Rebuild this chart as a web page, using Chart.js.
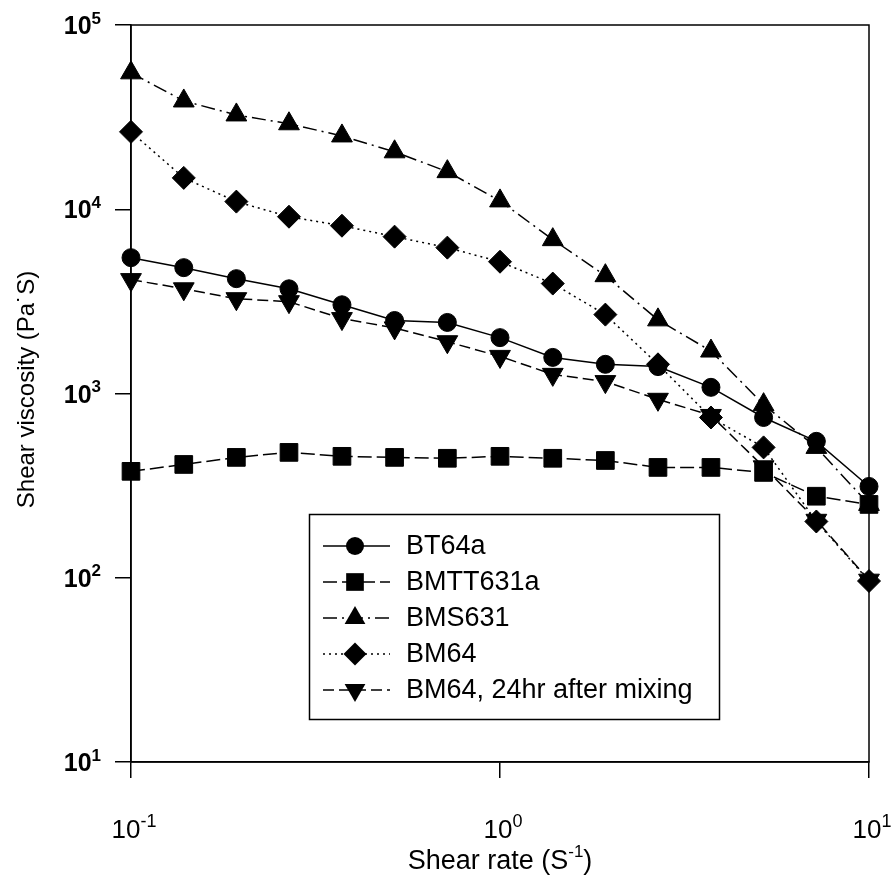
<!DOCTYPE html>
<html>
<head>
<meta charset="utf-8">
<script src="https://cdn.jsdelivr.net/npm/chart.js"></script>
<style>
  body { margin: 0; background: #fff; }
  #wrap { width: 891px; height: 878px; }
</style>
</head>
<body>
<div id="wrap"><canvas id="myChart"></canvas></div>
<script>
// shear rate (1/s)
var shearRate = [0.1, 0.139, 0.193, 0.268, 0.373, 0.518, 0.72, 1.0, 1.39, 1.93, 2.68, 3.73, 5.18, 7.2, 10];

// shear viscosity (Pa.s)
var bt64a     = [5460, 4820, 4200, 3700, 3030, 2490, 2430, 2010, 1570, 1440, 1400, 1080, 741, 550, 313];
var bmtt631a  = [378, 412, 450, 479, 456, 450, 445, 456, 445, 433, 397, 397, 373, 277, 250];
var bms631    = [55000, 38700, 32500, 29100, 25000, 20500, 16000, 11100, 6840, 4360, 2510, 1700, 870, 510, 250];
var bm64      = [26300, 14800, 11000, 9110, 8140, 7100, 6190, 5190, 3950, 2680, 1440, 741, 510, 202, 96];
var bm64_24hr = [4150, 3700, 3270, 3150, 2550, 2270, 1910, 1590, 1270, 1160, 930, 760, 400, 205, 97];

var seriesNames = ['BT64a', 'BMTT631a', 'BMS631', 'BM64', 'BM64, 24hr after mixing'];

// axis ticks: mantissa 10, exponents
var xTickExp = [-1, 0, 1];
var yTickExp = [1, 2, 3, 4, 5];

var FONT = '"Liberation Sans", Arial, Helvetica, sans-serif';

function pts(ys) {
    return shearRate.map(function (x, i) { return { x: x, y: ys[i] }; });
}

function series(label, ys, dash, style, radius, rotation) {
    return {
        label: label,
        data: pts(ys),
        borderColor: '#000',
        backgroundColor: '#000',
        borderWidth: 1.5,
        borderDash: dash,
        pointStyle: style,
        pointRadius: radius,
        pointRotation: rotation || 0,
        pointBackgroundColor: '#000',
        pointBorderColor: '#000',
        pointBorderWidth: 1,
        tension: 0,
        fill: false,
        clip: false
    };
}

function marker(ctx, style, r, rot, x, y) {
    ctx.save();
    ctx.fillStyle = '#000';
    ctx.setLineDash([]);
    ctx.beginPath();
    if (style === 'circle') {
        ctx.arc(x, y, r, 0, Math.PI * 2);
    } else if (style === 'rect') {
        var s = r * Math.SQRT1_2;
        ctx.rect(x - s, y - s, 2 * s, 2 * s);
    } else if (style === 'rectRot') {
        ctx.moveTo(x, y - r); ctx.lineTo(x + r, y); ctx.lineTo(x, y + r); ctx.lineTo(x - r, y);
        ctx.closePath();
    } else if (style === 'triangle') {
        var a = rot * Math.PI / 180;
        for (var k = 0; k < 3; k++) {
            var px = x + Math.sin(a) * r, py = y - Math.cos(a) * r;
            if (k === 0) ctx.moveTo(px, py); else ctx.lineTo(px, py);
            a += 2 * Math.PI / 3;
        }
        ctx.closePath();
    }
    ctx.fill();
    ctx.restore();
}

function powLabel(ctx, exp, x, y, size, weight, align) {
    var supSize = Math.round(size * 0.68);
    ctx.font = weight + ' ' + size + 'px ' + FONT;
    var w1 = ctx.measureText('10').width;
    ctx.font = weight + ' ' + supSize + 'px ' + FONT;
    var w2 = ctx.measureText(String(exp)).width;
    var left = align === 'right' ? x - w1 - w2 : x - (w1 + w2) / 2;
    ctx.textAlign = 'left';
    ctx.textBaseline = 'alphabetic';
    ctx.font = weight + ' ' + size + 'px ' + FONT;
    ctx.fillText('10', left, y);
    ctx.font = weight + ' ' + supSize + 'px ' + FONT;
    ctx.fillText(String(exp), left + w1, y - size * 0.42);
}

var decorations = {
    id: 'decorations',
    beforeDatasetsDraw: function (chart) {
        var ctx = chart.ctx, a = chart.chartArea;
        ctx.save();
        ctx.strokeStyle = '#000';
        ctx.lineWidth = 1.5;
        ctx.strokeRect(a.left, a.top, a.right - a.left, a.bottom - a.top);
        ctx.restore();
    },
    afterDraw: function (chart) {
        var ctx = chart.ctx, a = chart.chartArea;
        var xs = chart.scales.x, ys = chart.scales.y;
        ctx.save();
        ctx.fillStyle = '#000';

        // tick labels
        xTickExp.forEach(function (e) {
            powLabel(ctx, e, xs.getPixelForValue(Math.pow(10, e)) + 3, 838, 26, 'normal', 'center');
        });
        yTickExp.forEach(function (e) {
            powLabel(ctx, e, 101, ys.getPixelForValue(Math.pow(10, e)) + 9, 25, 'bold', 'right');
        });

        // x title
        var tx = (a.left + a.right) / 2, ty = 869;
        ctx.font = '27px ' + FONT;
        var p1 = 'Shear rate (S', p3 = ')';
        var w1 = ctx.measureText(p1).width, w3 = ctx.measureText(p3).width;
        ctx.font = '17px ' + FONT;
        var w2 = ctx.measureText('-1').width;
        var left = tx - (w1 + w2 + w3) / 2;
        ctx.textAlign = 'left';
        ctx.font = '27px ' + FONT;
        ctx.fillText(p1, left, ty);
        ctx.fillText(p3, left + w1 + w2, ty);
        ctx.font = '17px ' + FONT;
        ctx.fillText('-1', left + w1, ty - 12);

        // y title
        ctx.save();
        ctx.translate(34, (a.top + a.bottom) / 2 - 4);
        ctx.rotate(-Math.PI / 2);
        ctx.textAlign = 'center';
        ctx.font = '24px ' + FONT;
        ctx.fillText('Shear viscosity (Pa\u02D9S)', 0, 0);
        ctx.restore();

        // legend
        var bx = 309, by = 514, bw = 410, bh = 205;
        ctx.fillStyle = '#fff';
        ctx.fillRect(bx, by, bw, bh);
        ctx.strokeStyle = '#000';
        ctx.lineWidth = 1.5;
        ctx.strokeRect(bx + 0.5, by + 0.5, bw, bh);
        chart.data.datasets.forEach(function (ds, i) {
            var ry = 546 + i * 36;
            ctx.beginPath();
            ctx.setLineDash(ds.borderDash);
            ctx.lineWidth = 1.5;
            ctx.moveTo(323, ry);
            ctx.lineTo(390, ry);
            ctx.stroke();
            marker(ctx, ds.pointStyle, ds.pointRadius, ds.pointRotation, 355, ry);
            ctx.fillStyle = '#000';
            ctx.font = '27px ' + FONT;
            ctx.textAlign = 'left';
            ctx.textBaseline = 'middle';
            ctx.fillText(ds.label, 406, ry + 1);
        });
        ctx.restore();
    }
};

function axis(min, max, exps) {
    return {
        type: 'logarithmic',
        min: min,
        max: max,
        afterBuildTicks: function (scale) {
            scale.ticks = exps.map(function (e) { return { value: Math.pow(10, e) }; });
        },
        ticks: { display: false },
        grid: { drawOnChartArea: false, drawTicks: true, tickLength: 16, color: '#000', lineWidth: 1.5 },
        border: { display: true, color: '#000', width: 1.5 }
    };
}

var ctx = document.getElementById('myChart').getContext('2d');
var myChart = new Chart(ctx, {
    type: 'line',
    data: {
        datasets: [
            series(seriesNames[0], bt64a, [], 'circle', 9),
            series(seriesNames[1], bmtt631a, [14, 5], 'rect', 12.5),
            series(seriesNames[2], bms631, [14, 5, 2, 5], 'triangle', 12),
            series(seriesNames[3], bm64, [2, 4], 'rectRot', 11.5),
            series(seriesNames[4], bm64_24hr, [11, 5], 'triangle', 12, 180)
        ]
    },
    options: {
        responsive: true,
        maintainAspectRatio: false,
        animation: false,
        layout: { padding: { left: 115, top: 25, right: 22, bottom: 100 } },
        plugins: { legend: { display: false }, tooltip: { enabled: false } },
        scales: {
            x: axis(0.1, 10, xTickExp),
            y: axis(10, 100000, yTickExp)
        }
    },
    plugins: [decorations]
});
</script>
</body>
</html>
